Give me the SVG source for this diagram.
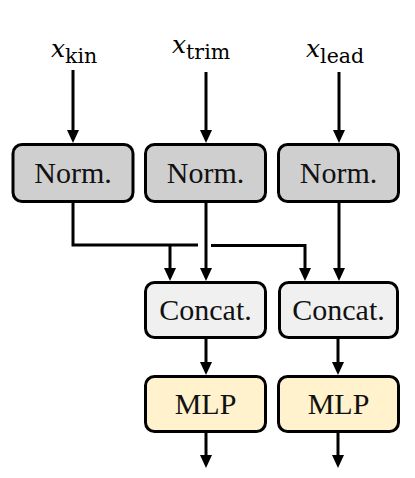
<svg xmlns="http://www.w3.org/2000/svg" width="415" height="478" viewBox="0 0 415 478">
  <style>
    .box { stroke: #000; stroke-width: 3; }
    .norm { fill: #d0cfcf; }
    .cat { fill: #f0f0f0; }
    .mlp { fill: #fff2cc; }
    .lbl { font-family: "Liberation Serif", "DejaVu Serif", serif; font-size: 30px; fill: #111; text-anchor: middle; }
    .var { font-family: "DejaVu Serif", "Liberation Serif", serif; fill: #000; }
    .vx { font-style: italic; font-size: 25px; }
    .sub { font-size: 20.5px; }
    .wire { fill: none; stroke: #000; stroke-width: 3; }
  </style>
  <defs>
    <marker id="arr" viewBox="0 0 13 12" refX="2" refY="6" markerWidth="13" markerHeight="12" markerUnits="userSpaceOnUse" orient="auto">
      <path d="M0,0 L13,6 L0,12 z" fill="#000"/>
    </marker>
  </defs>

  <g id="in-kin">
    <text class="var" x="51" y="57"><tspan class="vx">x</tspan><tspan class="sub" dy="6">kin</tspan></text>
  </g>
  <g id="in-trim">
    <text class="var" x="172" y="53"><tspan class="vx">x</tspan><tspan class="sub" dy="6">trim</tspan></text>
  </g>
  <g id="in-lead">
    <text class="var" x="306" y="57"><tspan class="vx">x</tspan><tspan class="sub" dy="6">lead</tspan></text>
  </g>

  <g id="norm1">
    <rect class="box norm" x="13" y="144.5" width="120" height="57" rx="9"/>
    <text class="lbl" x="73" y="183">Norm.</text>
  </g>
  <g id="norm2">
    <rect class="box norm" x="145.5" y="144.5" width="120" height="57" rx="9"/>
    <text class="lbl" x="205.5" y="183">Norm.</text>
  </g>
  <g id="norm3">
    <rect class="box norm" x="278.5" y="144.5" width="120" height="57" rx="9"/>
    <text class="lbl" x="338.5" y="183">Norm.</text>
  </g>

  <g id="concat1">
    <rect class="box cat" x="145.5" y="282.5" width="120" height="55" rx="9"/>
    <text class="lbl" x="205.5" y="320">Concat.</text>
  </g>
  <g id="concat2">
    <rect class="box cat" x="279.5" y="282.5" width="118" height="55" rx="9"/>
    <text class="lbl" x="338.5" y="320">Concat.</text>
  </g>

  <g id="mlp1">
    <rect class="box mlp" x="145.5" y="376.5" width="120" height="55" rx="9"/>
    <text class="lbl" x="205.5" y="414">MLP</text>
  </g>
  <g id="mlp2">
    <rect class="box mlp" x="278.5" y="376.5" width="120" height="55" rx="9"/>
    <text class="lbl" x="338.5" y="414">MLP</text>
  </g>

  <g id="connectors">
    <path class="wire" d="M73,70 V132" marker-end="url(#arr)"/>
    <path class="wire" d="M206,72 V132" marker-end="url(#arr)"/>
    <path class="wire" d="M339,72 V132" marker-end="url(#arr)"/>

    <path class="wire" d="M73,202 V245 H198"/>
    <path class="wire" d="M211,245.5 H305 V270" marker-end="url(#arr)"/>
    <path class="wire" d="M170,245 V270" marker-end="url(#arr)"/>
    <path class="wire" d="M206,202 V270" marker-end="url(#arr)"/>
    <path class="wire" d="M339,202 V270" marker-end="url(#arr)"/>

    <path class="wire" d="M206,339 V364" marker-end="url(#arr)"/>
    <path class="wire" d="M338,339 V364" marker-end="url(#arr)"/>
    <path class="wire" d="M206,433 V457" marker-end="url(#arr)"/>
    <path class="wire" d="M338,433 V457" marker-end="url(#arr)"/>
  </g>
</svg>
